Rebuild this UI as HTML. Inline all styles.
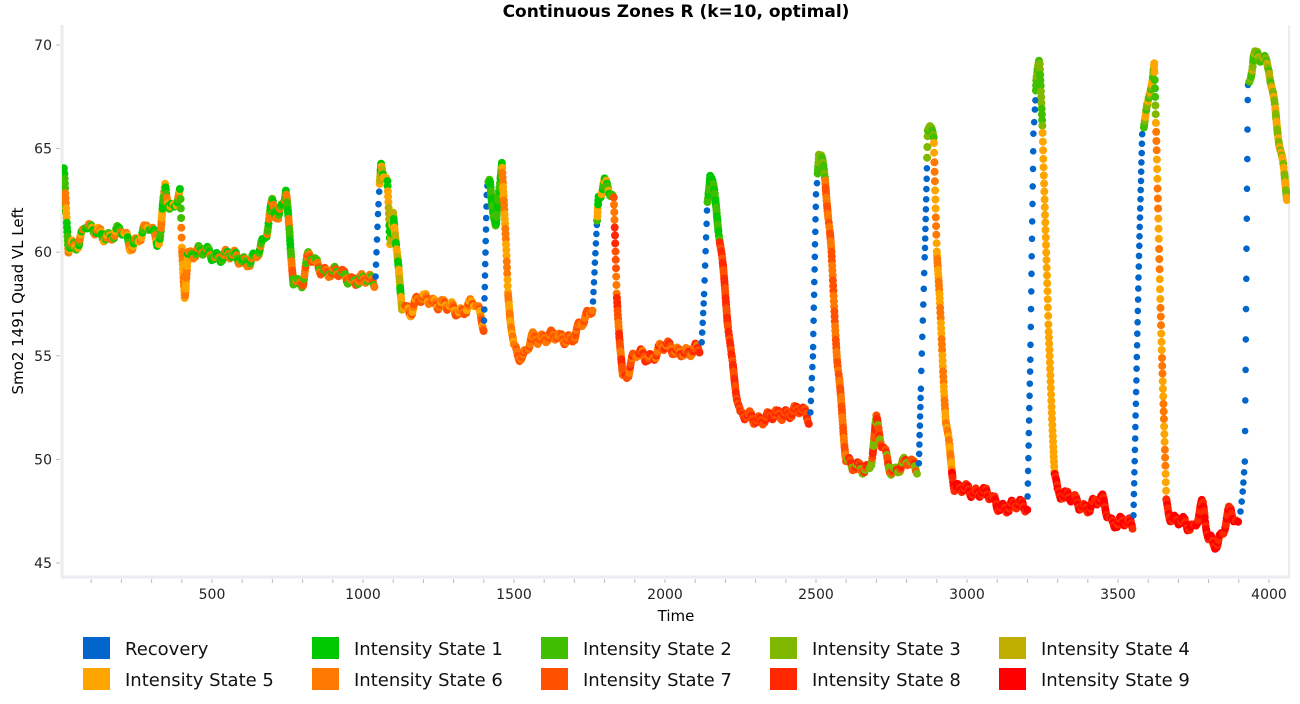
<!DOCTYPE html><html><head><meta charset="utf-8"><style>
body{margin:0;background:#fff;font-family:"DejaVu Sans","Liberation Sans",sans-serif}
</style></head><body>
<svg id="s" width="1300" height="700" xmlns="http://www.w3.org/2000/svg" font-family="DejaVu Sans, Liberation Sans, sans-serif">
<text x="676" y="17" text-anchor="middle" font-size="17" font-weight="bold">Continuous Zones R (k=10, optimal)</text>
<defs><clipPath id="c"><rect x="62" y="25" width="1228" height="552"/></clipPath></defs>
<line x1="62" y1="25" x2="62" y2="577" stroke="#ebebf2" stroke-width="3"/>
<line x1="61" y1="577" x2="1290" y2="577" stroke="#ebebf2" stroke-width="3"/>
<line x1="1289" y1="25" x2="1289" y2="577" stroke="#ebebf2" stroke-width="2"/>
<g id="ax" font-size="14" fill="#222"></g>
<text x="676" y="621" text-anchor="middle" font-size="15">Time</text>
<text transform="translate(23,301) rotate(-90)" text-anchor="middle" font-size="15">Smo2 1491 Quad VL Left</text>
<g id="pts" clip-path="url(#c)"></g>
<g id="leg" font-size="18" fill="#111"></g>
</svg>
<script>
var NS="http://www.w3.org/2000/svg";
function el(t,a,p,txt){var e=document.createElementNS(NS,t);for(var k in a)e.setAttribute(k,a[k]);if(txt)e.textContent=txt;p.appendChild(e);return e;}
function X(t){return 61+t*0.302;}function Y(v){return 45+(70-v)*20.72;}
var ax=document.getElementById('ax');
[45,50,55,60,65,70].forEach(function(v){var y=Y(v);el('line',{x1:56,x2:60,y1:y,y2:y,stroke:'#bbb'},ax);el('text',{x:52,y:y+5,'text-anchor':'end'},ax,v);});
for(var t=100;t<=4000;t+=100){var x=X(t);el('line',{x1:x,x2:x,y1:579,y2:583,stroke:'#bbb'},ax);if(t%500==0)el('text',{x:x,y:599,'text-anchor':'middle'},ax,t);}
var C={R:'#0066cc',a:'#00c800',b:'#40bf00',c:'#80b800',d:'#bfae00',e:'#ffa500',f:'#ff7800',g:'#ff5000',h:'#ff2800',i:'#ff0000'};
var K=[[0,62],[10,63.8],[25,60],[40,60.3],[60,60.5],[80,61.5],[100,61],[150,60.8],[200,61],[230,60.3],[260,60.8],[290,61.2],[320,60.5],[330,61],[345,63.5],[360,62],[380,62.2],[395,62.8],[400,60],[410,58],[420,60],[450,60],[600,59.7],[630,59.5],[660,60],[680,61],[700,62.6],[720,61.5],[740,62.6],[745,63],[760,60],[770,58.7],[800,58.6],[820,59.8],[850,59.3],[900,59],[1000,58.6],[1040,58.6],[1050,62],[1060,64.3],[1080,63.5],[1090,60],[1100,62],[1110,60],[1130,57.5],[1160,57.2],[1180,57.6],[1220,57.8],[1280,57.3],[1320,57.2],[1370,57.5],[1400,56.5],[1410,63],[1420,63.6],[1440,61],[1460,64.4],[1480,58],[1500,55.5],[1530,54.8],[1560,55.8],[1600,56],[1650,55.8],[1700,56],[1750,57],[1760,57.5],[1770,60],[1780,62.8],[1800,63.3],[1830,62.5],[1840,58],[1860,54],[1880,54.3],[1900,55],[1950,55],[2000,55.4],[2050,55.3],[2080,55],[2120,55.5],[2130,58],[2140,62.5],[2150,64],[2170,62],[2200,58],[2220,55],[2250,52],[2300,52],[2350,52],[2400,52.3],[2450,52.3],[2480,52],[2490,55],[2500,63],[2510,65],[2530,63.5],[2550,60],[2570,55],[2600,50],[2620,49.5],[2680,49.7],[2700,51.8],[2720,50.5],[2750,49.5],[2800,49.8],[2840,49.6],[2860,60],[2870,66],[2890,65.5],[2900,60],[2930,52],[2960,48.5],[3000,48.5],[3050,48.5],[3100,47.8],[3150,47.7],[3200,47.8],[3210,55],[3220,66],[3230,68.5],[3240,69],[3250,66],[3270,56],[3290,49.5],[3300,48.5],[3350,48],[3400,47.7],[3450,48],[3480,47],[3550,46.8],[3570,60],[3580,66],[3600,67],[3620,69],[3640,58],[3660,48],[3680,47],[3750,46.8],[3780,47.8],[3800,46],[3830,46],[3870,47.5],[3900,46.6],[3920,50],[3930,68],[3950,69.5],[4000,69],[4020,67],[4060,62.5]];
var S=[[400,'abfe'],[420,'ef'],[760,'baf'],[1040,'fgb'],[1055,'R'],[1130,'aed'],[1400,'fge'],[1415,'R'],[1460,'ab'],[1500,'ef'],[1760,'gf'],[1775,'R'],[1830,'abe'],[2120,'gfh'],[2140,'R'],[2180,'ba'],[2480,'gh'],[2505,'R'],[2530,'bc'],[2600,'fg'],[2840,'ghc'],[2868,'R'],[2890,'bc'],[2950,'ef'],[3200,'hi'],[3228,'R'],[3250,'cb'],[3290,'e'],[3550,'hi'],[3585,'R'],[3625,'bce'],[3660,'ef'],[3900,'ih'],[3935,'R'],[4010,'cbd'],[9999,'ce']];
function val(t){for(var i=1;i<K.length;i++)if(t<=K[i][0]){var a=K[i-1],b=K[i];return a[1]+(b[1]-a[1])*(t-a[0])/(b[0]-a[0]);}return K[K.length-1][1];}
function col(t,n){for(var i=0;i<S.length;i++)if(t<S[i][0]){var s=S[i][1];if(s=='R')return C.R;return C[s[Math.floor(n/3)%s.length]];}}
var g=document.getElementById('pts');var n=0,lx=-99,ly=-99;
for(var t=0;t<=4060;t+=0.8){var v=val(t)+0.25*Math.sin(t*0.21)+0.15*Math.sin(t*0.07);var c=col(t,n++);
var x=X(t),y=Y(v);var d=Math.hypot(x-lx,y-ly);
if(c==C.R){if(d<9)continue;}else if(d<2.2)continue;
lx=x;ly=y;
el('circle',{cx:x.toFixed(1),cy:y.toFixed(1),r:c==C.R?3.3:4,fill:c},g);}
var L=[['Recovery','R'],['Intensity State 1','a'],['Intensity State 2','b'],['Intensity State 3','c'],['Intensity State 4','d'],['Intensity State 5','e'],['Intensity State 6','f'],['Intensity State 7','g'],['Intensity State 8','h'],['Intensity State 9','i']];
var lg=document.getElementById('leg');
L.forEach(function(l,i){var x=83+(i%5)*229,y=637+Math.floor(i/5)*31;el('rect',{x:x,y:y,width:27,height:22,fill:C[l[1]]},lg);el('text',{x:x+42,y:y+18},lg,l[0]);});
</script>
</body></html>
